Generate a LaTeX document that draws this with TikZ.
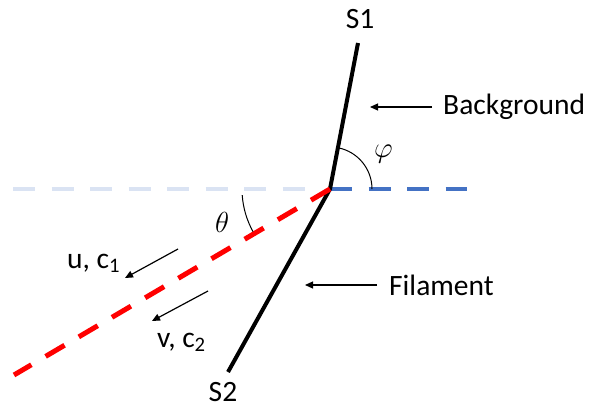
\RequirePackage{fix-cm}
\documentclass[tikz,border=0pt]{standalone}
\usepackage{fontspec}
\setmainfont{Carlito}
\usetikzlibrary{arrows.meta, positioning, calc}
\definecolor{cLight}{RGB}{218,227,243}
\definecolor{cBlue}{RGB}{68,114,196}
\definecolor{cRed}{RGB}{255,0,0}
\tikzset{
	lbl/.style    ={inner sep=0pt, font=\fontsize{29.5}{32}\selectfont},
	ang/.style    ={inner sep=0pt, font=\fontsize{29}{32}\selectfont},
	wall/.style   ={line width=4pt, black},
	dashln/.style ={line width=4pt, dash pattern=on 22pt off 16.5pt},
	angarc/.style ={line width=1pt},
	ptr/.style    ={-{Triangle[length=8pt,width=7pt]}, line width=1.2pt},
}

\begin{document}
\begin{tikzpicture}[x=1pt, y=1pt]
	\useasboundingbox (0,0) rectangle (603,408);
	% key points
	\coordinate (O) at (330,219);
	\coordinate (s1end) at (358,365);
	\coordinate (s2end) at (228,36);
	\coordinate (leftend) at (13,219);
	\coordinate (leftstop) at (305,219);
	\coordinate (rightend) at (467,219);
	\coordinate (redend) at (14,33);
	\coordinate (utail) at (178,159); \coordinate (utip) at (125,130);
	\coordinate (vtail) at (208,117); \coordinate (vtip) at (152,87);
	\coordinate (bgtip) at (370,301);
	\coordinate (filtip) at (305,123);
	% dashed lines
	\draw[dashln, cLight] (leftend) -- (leftstop);
	\draw[dashln, cBlue] (O) -- (rightend);
	\draw[wall] (s1end) -- (O) -- (s2end);
	\draw[dashln, cRed, line width=5pt] (O) -- (redend);
	% angles
	\draw[angarc] ([shift={(0:42)}]O) arc[start angle=0, end angle=79, radius=42];
	\draw[angarc] ([shift={(184:88)}]O) arc[start angle=184, end angle=209, radius=88];
	% labels
	\node[lbl, anchor=base] (s1) at (360,379) {S1};
	\node[lbl, anchor=base] (s2) at (223,7) {S2};
	\node[lbl, anchor=west] (bg) at (443,301) {Background};
	\node[lbl, anchor=west] (fil) at (389,123) {Filament};
	\node[lbl, anchor=base west] (uc) at (67,140) {u, c\textsubscript{1}};
	\node[lbl, anchor=base west] (vc) at (157,61) {v, c\textsubscript{2}};
	\node[ang, anchor=base west] (phi) at (374,251) {$\varphi$};
	\node[ang, anchor=base west] (th) at (215,176) {$\theta$};
	% pointers
	\draw[ptr] ([xshift=-11pt]bg.west) -- (bgtip);
	\draw[ptr] ([xshift=-12pt]fil.west) -- (filtip);
	\draw[ptr] (utail) -- (utip);
	\draw[ptr] (vtail) -- (vtip);
\end{tikzpicture}
\end{document}
